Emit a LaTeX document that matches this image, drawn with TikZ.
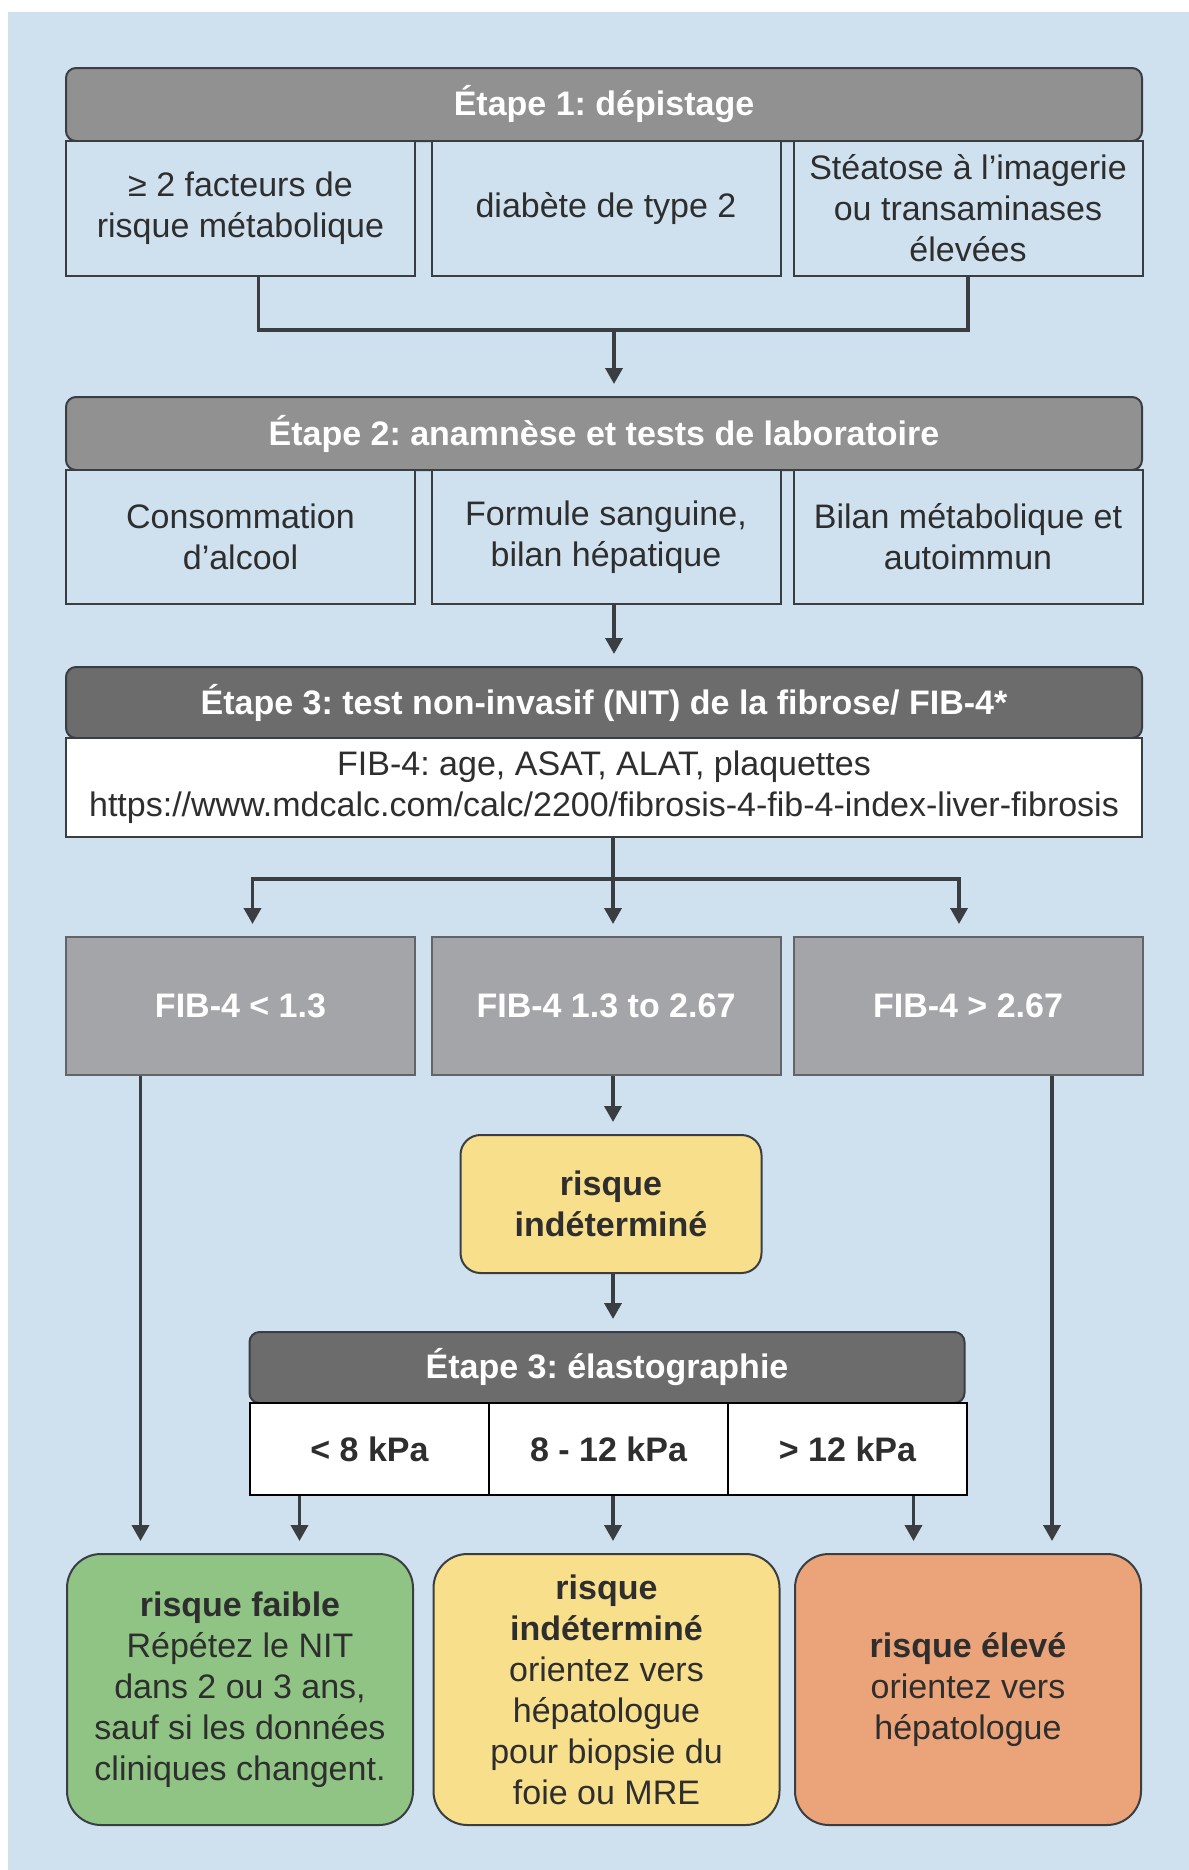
\documentclass[tikz,border=0pt]{standalone}
\usepackage{fontspec}
\setmainfont{Liberation Sans}
\frenchspacing
\usetikzlibrary{arrows.meta, positioning}
\definecolor{bgblue}{HTML}{CFE1EE}
\definecolor{hdgray}{HTML}{919191}
\definecolor{hddark}{HTML}{6C6C6C}
\definecolor{fibgray}{HTML}{A3A5A8}
\definecolor{lnk}{HTML}{3A3E43}
\definecolor{txt}{HTML}{2E2E2E}
\definecolor{rgreen}{HTML}{90C484}
\definecolor{ryellow}{HTML}{F8DF8C}
\definecolor{rorange}{HTML}{EBA479}

\begin{document}
\begin{tikzpicture}[x=0.5pt, y=-0.5pt,
	every node/.style={font=\fontsize{17}{20.5}\selectfont, align=center, inner sep=2pt},
	hd/.style={draw=lnk, line width=1pt, rounded corners=5pt, text=white, font=\fontsize{17}{20.5}\selectfont\bfseries, minimum width=538pt, minimum height=36.5pt},
	cell/.style={draw=lnk, line width=1pt, fill=bgblue, text=txt, minimum width=174.5pt, minimum height=67.5pt},
	fib/.style={draw=lnk!80, line width=1pt, fill=fibgray, text=white, font=\fontsize{17}{20.5}\selectfont\bfseries, minimum width=174.5pt, minimum height=69pt},
	kpa/.style={draw=black, line width=0.8pt, fill=white, text=txt, font=\fontsize{17}{20.5}\selectfont\bfseries, minimum width=119.5pt, minimum height=46pt},
	res/.style={draw=lnk, line width=1pt, rounded corners=17pt, text=txt, minimum width=173pt, minimum height=135.5pt},
	link/.style={draw=lnk, line width=1.8pt},
	arr/.style={link, ->, shorten >=6pt},
	>={Triangle[length=8pt, width=8.5pt]}]
		\useasboundingbox (0,0) rectangle (1189,1870);
		\fill[white] (0,0) rectangle (1189,1870);
		\fill[bgblue] (8,12) rectangle (1189,1870);

		\draw (604,104.5) node[hd, fill=hdgray] (h1) {Étape 1: dépistage}
		(240.5,208.5) node[cell] (s1a) {≥ 2 facteurs de\\risque métabolique}
		(606,208.5) node[cell] (s1b) {diabète de type 2}
		(968,208.5) node[cell] (s1c) {Stéatose à l’imagerie\\ou transaminases\\élevées}
		(604,433.5) node[hd, fill=hdgray] (h2) {Étape 2: anamnèse et tests de laboratoire}
		(240.5,537) node[cell, minimum height=67pt] (s2a) {Consommation\\d’alcool}
		(606,537) node[cell, minimum height=67pt] (s2b) {Formule sanguine,\\bilan hépatique}
		(968,537) node[cell, minimum height=67pt] (s2c) {Bilan métabolique et\\autoimmun}
		(604,702.5) node[hd, fill=hddark, minimum height=35.5pt] (h3) {Étape 3: test non-invasif (NIT) de la fibrose/ FIB-4*}
		(604,787.5) node[draw=lnk, line width=1pt, fill=white, text=txt, minimum width=538pt, minimum height=49.5pt] (fb) {FIB-4: age, ASAT, ALAT, plaquettes\\https://www.mdcalc.com/calc/2200/fibrosis-4-fib-4-index-liver-fibrosis}
		(240.5,1006) node[fib] (f1) {FIB-4 < 1.3}
		(606,1006) node[fib] (f2) {FIB-4 1.3 to 2.67}
		(968,1006) node[fib] (f3) {FIB-4 > 2.67}
		(611,1204) node[res, fill=ryellow, rounded corners=10pt, minimum width=150.5pt, minimum height=69pt, font=\fontsize{17}{20.5}\selectfont\bfseries] (ri) {risque\\indéterminé}
		(607,1367.5) node[hd, fill=hddark, minimum width=357.5pt, minimum height=35.5pt] (he) {Étape 3: élastographie}
		(369.5,1449) node[kpa] (k1) {< 8 kPa}
		(608.5,1449) node[kpa] (k2) {8 - 12 kPa}
		(847.5,1449) node[kpa] (k3) {> 12 kPa}
		(240,1689.5) node[res, fill=rgreen] (o1) {\textbf{risque faible}\\Répétez le NIT\\dans 2 ou 3 ans,\\sauf si les données\\cliniques changent.}
		(606.5,1689.5) node[res, fill=ryellow] (o2) {\textbf{risque}\\\textbf{indéterminé}\\orientez vers\\hépatologue\\pour biopsie du\\foie ou MRE}
		(968,1689.5) node[res, fill=rorange] (o3) {\textbf{risque élevé}\\orientez vers\\hépatologue};

		\coordinate (m1) at (614,330);
		\coordinate (sp) at (613,879);
		\coordinate (la) at ([xshift=-50pt]f1.south);
		\coordinate (ra) at ([xshift=42pt]f3.south);
		\coordinate (ka) at ([xshift=-35pt]k1.south);
		\coordinate (kc) at ([xshift=33pt]k3.south);

		\draw[link] ([xshift=9pt]s1a.south) |- (m1) -| (s1c.south);
		\draw[arr] (m1) -- (m1 |- h2.north);
		\draw[arr] (s2b.south -| m1) -- (m1 |- h3.north);
		\draw[link] (fb.south -| sp) -- (sp);
		\draw[arr] (sp) -| ([xshift=6pt]f1.north);
		\draw[arr] (sp) -| ([xshift=-4.5pt]f3.north);
		\draw[arr] (sp) -- (sp |- f2.north);
		\draw[arr] (f2.south -| sp) -- (sp |- ri.north);
		\draw[arr] (ri.south -| sp) -- (sp |- he.north);
		\draw[arr] (la) -- (la |- o1.north);
		\draw[arr] (ra) -- (ra |- o3.north);
		\draw[arr] (ka) -- (ka |- o1.north);
		\draw[arr] (k2.south -| sp) -- (sp |- o2.north);
		\draw[arr] (kc) -- (kc |- o3.north);
\end{tikzpicture}
\end{document}
